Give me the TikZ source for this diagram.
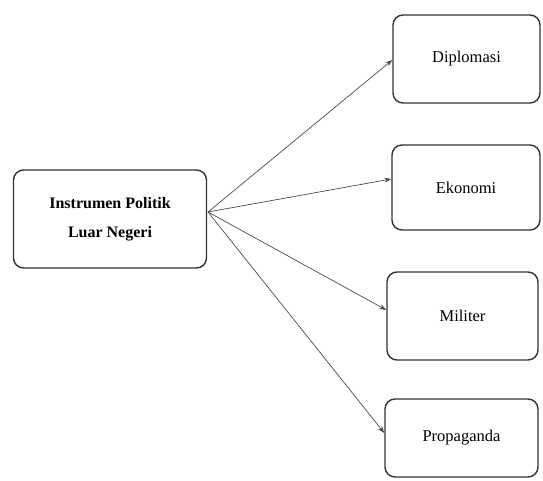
\documentclass[tikz,border=0pt]{standalone}
\usepackage{fontspec}
\setmainfont{Liberation Serif}
\usetikzlibrary{arrows.meta}
\begin{document}
\begin{tikzpicture}[x=1pt,y=-1pt,
  box/.style={draw=black!80,line width=1.4pt,rounded corners=10pt,fill=white,inner sep=0pt,align=center},
  conn/.style={draw=black!70,line width=0.7pt,-{Stealth[length=7pt,width=5pt]}},
  lbl/.style={font=\fontsize{16.5}{22}\selectfont}]
\useasboundingbox (0,0) rectangle (543,481);
\node[box,minimum width=193pt,minimum height=98pt,font=\bfseries\fontsize{16}{29}\selectfont] (src) at (110,219) {Instrumen Politik\\Luar Negeri};
\node[box,lbl,minimum width=147pt,minimum height=88pt] (d) at (466.5,59) {Diplomasi};
\node[box,lbl,minimum width=148pt,minimum height=85pt] (e) at (466,187.5) {Ekonomi};
\node[box,lbl,minimum width=151pt,minimum height=88pt] (m) at (462.5,316) {Militer};
\node[box,lbl,minimum width=153pt,minimum height=78pt] (p) at (461.5,438) {Propaganda};
\coordinate (o) at (208,212);
\draw[conn] (o) -- (d.west |- 0,60);
\draw[conn] (o) -- (e.west |- 0,179);
\draw[conn] (o) -- (m.west |- 0,310);
\draw[conn] (o) -- (p.west |- 0,433);
\end{tikzpicture}
\end{document}
